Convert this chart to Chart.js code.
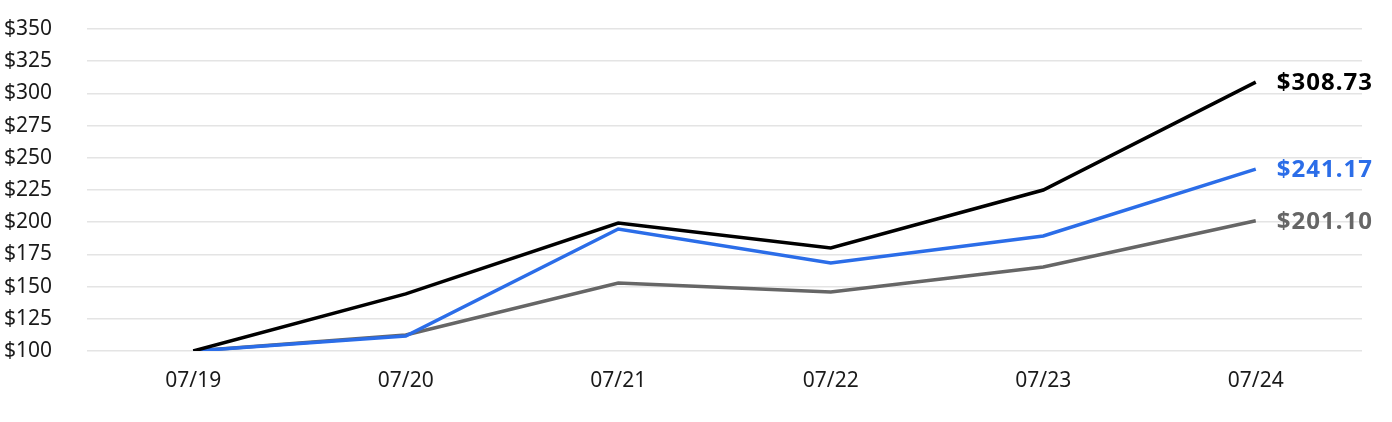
<!DOCTYPE html>
<html>
<head>
<meta charset="utf-8">
<script src="https://cdn.jsdelivr.net/npm/chart.js@4/dist/chart.umd.min.js"></script>
<style>
  html, body { margin: 0; padding: 0; background: #fff; }
  #wrap { width: 1392px; height: 422px; }
</style>
</head>
<body>
<div id="wrap"><canvas id="chart-canvas"></canvas></div>
<script>
// chart data
let labels = ["07/19", "07/20", "07/21", "07/22", "07/23", "07/24"];
let fundValues = [100, 144.3, 199.4, 180.0, 225.0, 308.73];
let indexValues = [100, 111.6, 194.7, 168.3, 189.3, 241.17];
let benchValues = [100, 112.4, 152.8, 145.8, 165.2, 201.10];
let yTicks = [100, 125, 150, 175, 200, 225, 250, 275, 300, 325, 350];

let BLACK = "#000000";
let BLUE = "#2b6de8";
let GRAY = "#666666";

let FONT = "'Noto Sans', 'Open Sans', sans-serif";

// draws the last value next to each line
let endLabels = {
  id: "endLabels",
  afterDatasetsDraw(chart) {
    let ctx = chart.ctx;
    ctx.save();
    ctx.font = "bold 24px " + FONT;
    ctx.letterSpacing = "1px";
    ctx.textAlign = "left";
    ctx.textBaseline = "middle";
    chart.data.datasets.forEach((ds, i) => {
      let meta = chart.getDatasetMeta(i);
      let pt = meta.data[meta.data.length - 1];
      let v = ds.data[ds.data.length - 1];
      ctx.fillStyle = ds.borderColor;
      ctx.fillText("$" + v.toFixed(2), pt.x + 21, pt.y + 1);
    });
    ctx.restore();
  },
};

function makeSet(data, color) {
  return {
    data: data,
    borderColor: color,
    backgroundColor: color,
    borderWidth: 3.5,
    pointRadius: 0,
    tension: 0,
    fill: false,
  };
}

let chart = new Chart(document.getElementById("chart-canvas"), {
  type: "line",
  data: {
    labels: labels,
    datasets: [
      makeSet(fundValues, BLACK),
      makeSet(indexValues, BLUE),
      makeSet(benchValues, GRAY),
    ],
  },
  options: {
    responsive: true,
    maintainAspectRatio: false,
    animation: false,
    layout: { padding: { left: 4, right: 30, top: 29, bottom: 0 } },
    plugins: {
      legend: { display: false },
      tooltip: { enabled: false },
    },
    scales: {
      x: {
        offset: true,
        grid: { display: false, drawTicks: false },
        border: { display: false },
        ticks: {
          color: "#1a1a1a",
          font: { family: FONT, size: 21 },
          padding: 17,
          maxRotation: 0,
        },
        afterFit(axis) { axis.height = 71; },
      },
      y: {
        min: 100,
        max: 350,
        afterBuildTicks(axis) { axis.ticks = yTicks.map(v => ({ value: v })); },
        grid: { color: "#e4e4e4", lineWidth: 1.5, drawTicks: false },
        border: { display: false },
        ticks: {
          color: "#1a1a1a",
          font: { family: FONT, size: 21 },
          crossAlign: "far",
          padding: 10,
          callback: v => "$" + v,
        },
        afterFit(axis) { axis.width = 83; },
      },
    },
  },
  plugins: [endLabels],
});
</script>
</body>
</html>
